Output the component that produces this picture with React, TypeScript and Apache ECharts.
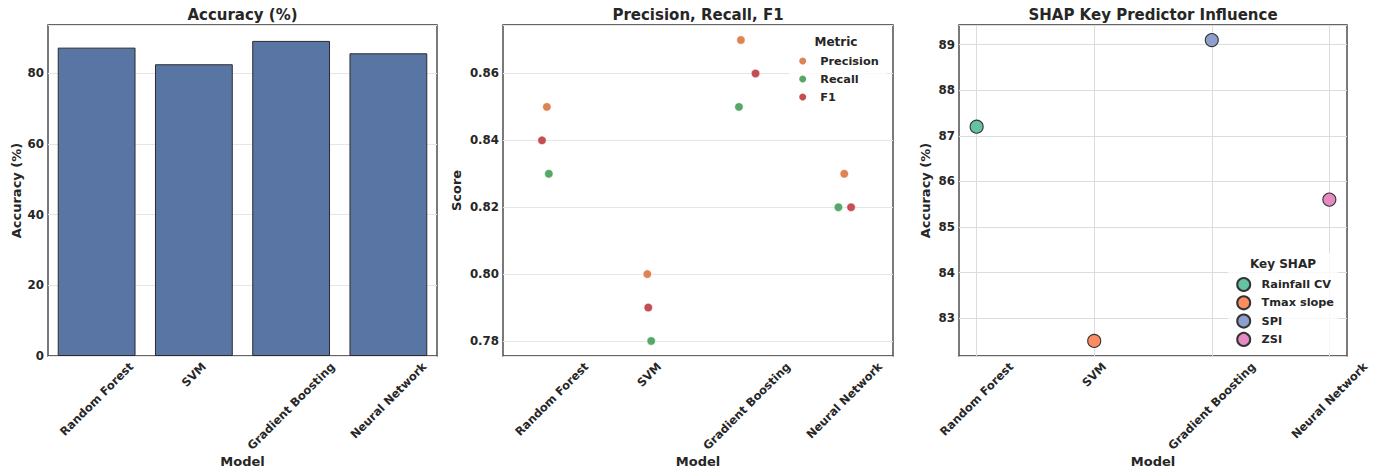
import React, { useEffect, useRef } from 'react';
import * as echarts from 'echarts';

// ---------- data ----------
const models = ['Random Forest', 'SVM', 'Gradient Boosting', 'Neural Network'];
const accuracy = [87.2, 82.5, 89.1, 85.6];

const metricNames = ['Precision', 'Recall', 'F1'];
const precision = [0.85, 0.8, 0.87, 0.83];
const recall = [0.83, 0.78, 0.85, 0.82];
const f1 = [0.84, 0.79, 0.86, 0.82];
// strip-plot jitter offsets (in category units)
const precisionJitter = [-0.05, -0.02, -0.06, 0.0];
const recallJitter = [-0.03, 0.02, -0.08, -0.06];
const f1Jitter = [-0.1, -0.01, 0.09, 0.07];

const shapKeys = ['Rainfall CV', 'Tmax slope', 'SPI', 'ZSI'];

const titles = ['Accuracy (%)', 'Precision, Recall, F1', 'SHAP Key Predictor Influence'];
const categoryTicks = [0, 1, 2, 3];

// ---------- styles ----------
const FONT = '"DejaVu Sans", "Noto Sans", sans-serif';
const TEXT = '#262626';
const TICK_FS = 11.5;
const BAR_COLOR = '#5975a4';
const METRIC_COLORS = ['#dd8452', '#55a868', '#c44e52'];
const SHAP_COLORS = ['#66c2a5', '#fc8d62', '#8da0cb', '#e78ac3'];

function buildRich(names: string[]) {
  const ctx = document.createElement('canvas').getContext('2d') as CanvasRenderingContext2D;
  ctx.font = `bold ${TICK_FS}px "DejaVu Sans"`;
  const rich: Record<string, any> = {};
  names.forEach((n, i) => {
    const L = ctx.measureText(n).width;
    rich['c' + i] = {
      fontSize: TICK_FS,
      fontWeight: 'bold',
      fontFamily: FONT,
      color: TEXT,
      padding: [L / 2, L / 2, 0, 0],
    };
  });
  return rich;
}

export default function App() {
  const ref = useRef<HTMLDivElement>(null);

  useEffect(() => {
    if (!ref.current) return;
    const chart = echarts.init(ref.current, undefined, { renderer: 'svg' });
    const rich = buildRich(models);

    const rotLabel = (isCategory: boolean) => ({
      rotate: 45,
      align: 'center',
      verticalAlign: 'middle',
      margin: 8.5,
      interval: 0,
      ...(isCategory ? {} : { customValues: categoryTicks }),
      formatter: (v: any, idx: number) => {
        const i = isCategory ? idx : Math.round(Number(v));
        return `{c${i}|${models[i]}}`;
      },
      rich,
    });

    const yLabel = (fmt: (v: number) => string) => ({
      fontSize: 11.8,
      fontWeight: 'bold',
      fontFamily: FONT,
      color: TEXT,
      margin: 4,
      showMinLabel: false,
      showMaxLabel: false,
      formatter: fmt,
    });

    const nameStyle = { fontSize: 13, fontWeight: 'bold', fontFamily: FONT, color: TEXT };
    const gridBase = {
      top: 25,
      height: 331,
      show: true,
      borderColor: '#333',
      borderWidth: 1.3,
      backgroundColor: 'transparent',
      containLabel: false,
      outerBoundsMode: 'none',
    };
    const splitLight = { show: true, lineStyle: { color: '#e6e6e6', width: 1 } };
    const splitShap = { show: true, lineStyle: { color: '#dcdcdc', width: 1 } };

    const titleStyle = { fontSize: 15, fontWeight: 'bold', fontFamily: FONT, color: TEXT };
    const centers = [242.5, 698, 1153];

    const metricValues = [precision, recall, f1];
    const metricJitter = [precisionJitter, recallJitter, f1Jitter];

    const xName = { name: 'Model', nameLocation: 'middle', nameGap: 99, nameMoveOverlap: false, nameTextStyle: nameStyle };

    const option: any = {
      animation: false,
      backgroundColor: '#ffffff',
      title: [
        ...titles.map((t, i) => ({ text: t, left: centers[i], top: 7, textAlign: 'center', padding: 0, textStyle: titleStyle })),
        { text: 'Metric', left: 836, top: 36, textAlign: 'center', padding: 0, textStyle: { ...titleStyle, fontSize: 12 } },
        { text: 'Key SHAP', left: 1283, top: 258, textAlign: 'center', padding: 0, textStyle: { ...titleStyle, fontSize: 12 } },
      ],
      grid: [
        { ...gridBase, left: 48, width: 389 },
        { ...gridBase, left: 503, width: 390 },
        { ...gridBase, left: 959, width: 388 },
      ],
      legend: [
        {
          data: metricNames,
          orient: 'vertical',
          left: 789.2,
          top: 28,
          padding: [26, 8, 6, 8],
          itemWidth: 25,
          itemHeight: 9,
          itemGap: 4,
          backgroundColor: 'rgba(255,255,255,0.8)',
          textStyle: { fontSize: 11.3, fontWeight: 'bold', fontFamily: FONT, color: TEXT, lineHeight: 14 },
        },
        {
          data: shapKeys,
          orient: 'vertical',
          left: 1228.2,
          top: 253,
          padding: [24, 4, 6, 8],
          itemWidth: 25.8,
          itemHeight: 13,
          itemGap: 3.3,
          backgroundColor: 'rgba(255,255,255,0.8)',
          textStyle: { fontSize: 11.3, fontWeight: 'bold', fontFamily: FONT, color: TEXT, lineHeight: 14 },
        },
      ],
      xAxis: [
        {
          type: 'category',
          gridIndex: 0,
          data: models,
          axisLine: { show: false },
          axisTick: { show: false },
          axisLabel: rotLabel(true),
          ...xName,
        },
        {
          type: 'value',
          gridIndex: 1,
          min: -0.5,
          max: 3.5,
          axisLine: { show: false },
          axisTick: { show: false, customValues: categoryTicks },
          splitLine: { show: false },
          axisLabel: rotLabel(false),
          ...xName,
        },
        {
          type: 'value',
          gridIndex: 2,
          min: -0.15,
          max: 3.15,
          axisLine: { show: false },
          axisTick: { show: false, customValues: categoryTicks },
          splitLine: splitShap,
          axisLabel: rotLabel(false),
          ...xName,
        },
      ],
      yAxis: [
        {
          type: 'value',
          gridIndex: 0,
          min: 0,
          max: 93.6,
          axisLine: { show: false },
          axisTick: { show: false },
          splitLine: splitLight,
          axisLabel: { ...yLabel((v) => (Math.abs(v / 20 - Math.round(v / 20)) < 1e-6 ? String(Math.round(v)) : '')), showMinLabel: true },
          name: 'Accuracy (%)',
          nameLocation: 'middle',
          nameGap: 25,
          nameMoveOverlap: false,
          nameTextStyle: nameStyle,
        },
        {
          type: 'value',
          gridIndex: 1,
          min: 0.7755,
          max: 0.8745,
          axisLine: { show: false },
          axisTick: { show: false },
          splitLine: splitLight,
          axisLabel: yLabel((v) => (Math.abs(v * 50 - Math.round(v * 50)) < 1e-6 ? v.toFixed(2) : '')),
          name: 'Score',
          nameLocation: 'middle',
          nameGap: 40,
          nameMoveOverlap: false,
          nameTextStyle: nameStyle,
        },
        {
          type: 'value',
          gridIndex: 2,
          min: 82.17,
          max: 89.43,
          axisLine: { show: false },
          axisTick: { show: false },
          splitLine: splitShap,
          axisLabel: yLabel((v) => (Math.abs(v - Math.round(v)) < 1e-6 ? String(Math.round(v)) : '')),
          name: 'Accuracy (%)',
          nameLocation: 'middle',
          nameGap: 27,
          nameMoveOverlap: false,
          nameTextStyle: nameStyle,
        },
      ],
      series: [
        {
          type: 'bar',
          xAxisIndex: 0,
          yAxisIndex: 0,
          barWidth: '80%',
          data: accuracy,
          itemStyle: { color: BAR_COLOR, borderColor: '#2b2b2b', borderWidth: 1 },
        },
        ...metricNames.map((name, k) => ({
          type: 'scatter',
          name,
          xAxisIndex: 1,
          yAxisIndex: 1,
          symbol: 'circle',
          symbolSize: 8.5,
          itemStyle: { color: METRIC_COLORS[k], borderColor: '#ffffff', borderWidth: 0.6, opacity: 1 },
          data: metricValues[k].map((v, i) => [i + metricJitter[k][i], v]),
        })),
        ...shapKeys.map((name, i) => ({
          type: 'scatter',
          name,
          xAxisIndex: 2,
          yAxisIndex: 2,
          symbol: 'circle',
          symbolSize: 13,
          itemStyle: { color: SHAP_COLORS[i], borderColor: '#333333', borderWidth: 1.1, opacity: 1 },
          data: [[i, accuracy[i]]],
        })),
      ],
    };

    chart.setOption(option);
    return () => chart.dispose();
  }, []);

  return (
    <div
      ref={ref}
      style={{ position: 'fixed', left: 0, top: 0, width: 1380, height: 472, background: '#fff' }}
    />
  );
}
